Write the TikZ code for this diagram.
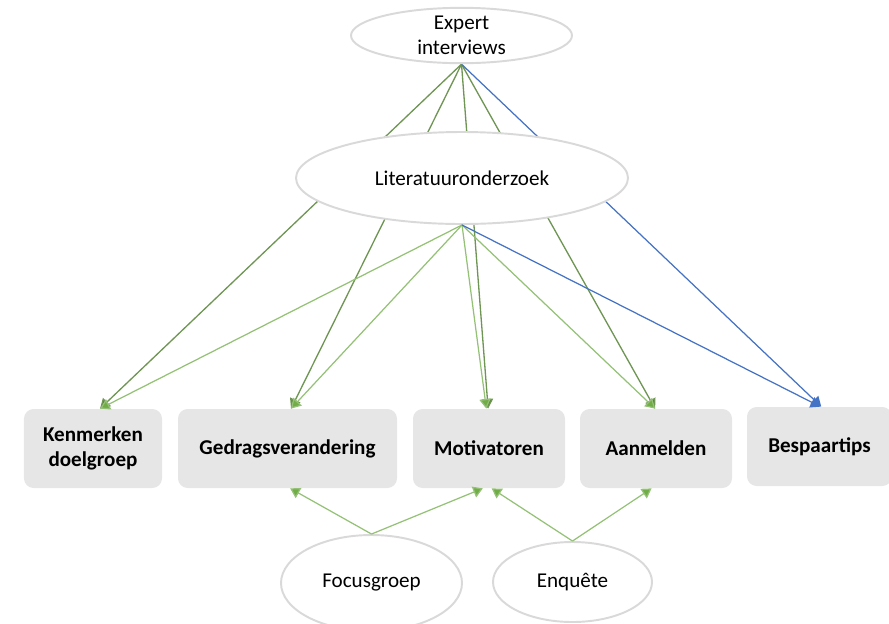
\documentclass[tikz,border=0pt]{standalone}
\usepackage{fontspec}
\setmainfont{Carlito}
\usetikzlibrary{arrows.meta}
\usetikzlibrary{shapes.geometric}
\usetikzlibrary{backgrounds}
\definecolor{ringgray}{RGB}{217,217,217}
\definecolor{boxgray}{RGB}{230,230,230}
\definecolor{darkgreen}{RGB}{84,130,53}
\definecolor{lightgreen}{RGB}{112,173,71}
\definecolor{tipblue}{RGB}{68,114,196}
\tikzset{
   source/.style={ellipse, draw=ringgray, line width=1.1pt, fill=white,
           inner sep=0pt, align=center, font=\fontsize{12}{14.5}\selectfont},
   topic/.style={rounded corners=5.5pt, fill=boxgray, inner sep=0pt,
           minimum height=1.58cm, align=center,
           font=\fontsize{12}{14}\selectfont\bfseries},
   expert link/.style={draw=darkgreen!85, line width=0.75pt,
           -{Triangle[length=5.5pt,width=6.5pt,fill=darkgreen]}},
   lit link/.style={draw=lightgreen!75, line width=0.7pt,
           -{Triangle[length=5.5pt,width=6.5pt,fill=lightgreen]}},
   blue link/.style={draw=tipblue, line width=0.7pt,
           -{Triangle[length=5.5pt,width=6.5pt]}},
}

\begin{document}
\begin{tikzpicture}[x=2cm, y=-2cm]
    \useasboundingbox (0,0) rectangle (8.89,6.23);

    % sources
    \node[source, minimum width=4.42cm, minimum height=0.94cm] (expert) at (4.615,0.355) {Expert\\interviews};
    \node[source, minimum width=6.64cm, minimum height=1.84cm] (lit) at (4.62,1.78) {Literatuuronderzoek};
    \node[source, minimum width=3.62cm, minimum height=1.92cm] (focus) at (3.715,5.83) {Focusgroep};
    \node[source, minimum width=3.18cm, minimum height=1.60cm] (enq) at (5.725,5.82) {Enquête};

    % topics
    \node[topic, minimum width=2.76cm] (kenmerken) at (0.93,4.485) {Kenmerken\\doelgroep};
    \node[topic, minimum width=4.38cm] (gedrag) at (2.875,4.485) {Gedragsverandering};
    \node[topic, minimum width=3.04cm] (motiv) at (4.89,4.485) {Motivatoren};
    \node[topic, minimum width=3.04cm] (aanmeld) at (6.56,4.485) {Aanmelden};
    \node[topic, minimum width=2.90cm] (bespaar) at (8.195,4.465) {Bespaartips};

    % expert interviews, behind the literature ellipse
    \begin{pgfonlayer}{background}
    \draw[expert link] (expert.south) -- ([xshift=4pt]kenmerken.north);
    \draw[expert link] (expert.south) -- ([xshift=2pt]gedrag.north);
    \draw[expert link] (expert.south) -- ([xshift=-0.5pt]motiv.north);
    \draw[expert link] (expert.south) -- ([xshift=-0.5pt]aanmeld.north);
    \draw[blue link] (expert.south) -- ([xshift=1pt]bespaar.north);
    \end{pgfonlayer}

    % literature
    \draw[lit link] (lit.south) -- ([xshift=4pt]kenmerken.north);
    \draw[lit link] (lit.south) -- ([xshift=2pt]gedrag.north);
    \draw[lit link] (lit.south) -- ([xshift=-1.5pt]motiv.north);
    \draw[lit link] (lit.south) -- ([xshift=-0.5pt]aanmeld.north);
    \draw[blue link] (lit.south) -- ([xshift=0.5pt]bespaar.north);

    % focus group and survey
    \draw[lit link] (focus.north) -- ([xshift=1.5pt]gedrag.south);
    \draw[lit link] (focus.north) -- ([xshift=-3.5pt]motiv.south);
    \draw[lit link] (enq.north) -- ([xshift=1.5pt]motiv.south);
    \draw[lit link] (enq.north) -- ([xshift=-2.5pt]aanmeld.south);

  \end{tikzpicture}
\end{document}
